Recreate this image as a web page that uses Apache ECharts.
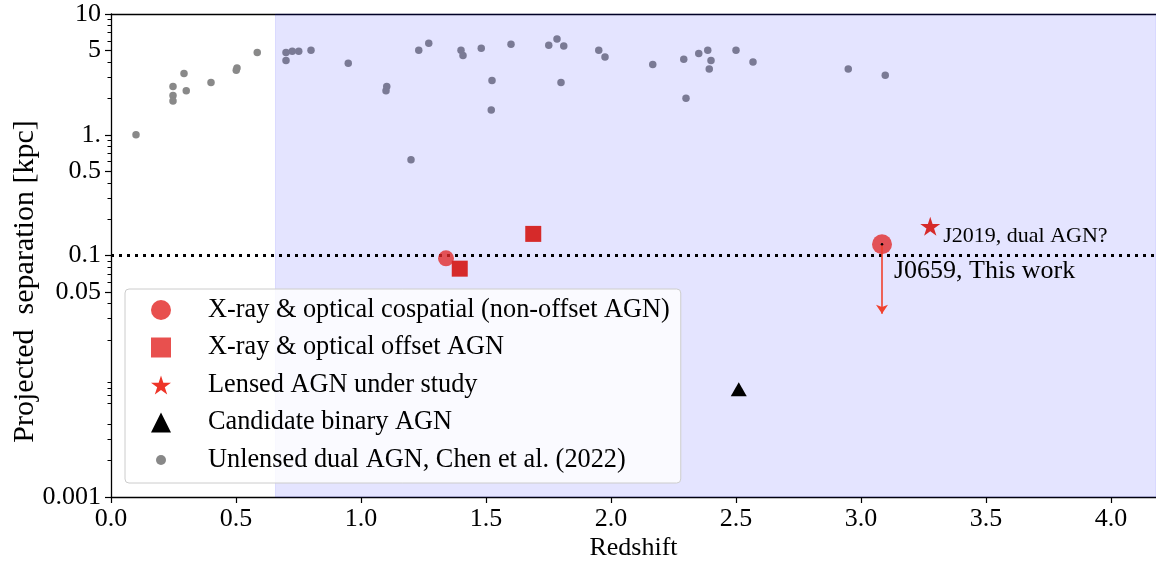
<!DOCTYPE html>
<html><head><meta charset="utf-8">
<script src="https://cdn.jsdelivr.net/npm/echarts@6/dist/echarts.min.js"></script>
<style>html,body{margin:0;padding:0;background:#fff}#c{width:1156px;height:561px}</style>
</head><body><div id="c"></div>
<script>
// ---- data ----
const unlensedZ   = [0.10,0.248,0.248,0.248,0.292,0.301,0.40,0.504,0.501,0.585,0.70,0.70,0.725,0.751,0.80,0.949,1.103,1.10,1.20,1.231,1.271,1.40,1.408,1.481,1.524,1.521,1.60,1.751,1.784,1.811,1.80,1.951,1.976,2.167,2.291,2.30,2.351,2.387,2.40,2.393,2.50,2.568,2.949,3.097];
const unlensedSep = [1.00,2.51,2.11,1.90,3.21,2.31,2.71,3.57,3.42,4.80,4.80,4.12,4.91,4.91,5.00,3.91,2.51,2.31,0.62,5.00,5.73,5.00,4.53,5.20,2.81,1.60,5.61,5.51,6.21,5.43,2.71,5.00,4.41,3.81,4.22,2.01,4.70,5.00,4.12,3.51,5.00,4.01,3.51,3.11];
const cospatialZ   = [1.34, 3.084];
const cospatialSep = [0.0948, 0.124];
const offsetZ   = [1.395, 1.689];
const offsetSep = [0.0778, 0.151];
const lensedZ   = [3.277];
const lensedSep = [0.175];
const binaryZ   = [2.511];
const binarySep = [0.0078];
const j0659UpperLimit = 0.033;
const shadeStartZ = 0.658;
const thresholdSep = 0.1;
const seriesNames = ['X-ray & optical cospatial (non-offset AGN)','X-ray & optical offset AGN','Lensed AGN under study','Candidate binary AGN','Unlensed dual AGN, Chen et al. (2022)'];
const xTickValues = [0,0.5,1.0,1.5,2.0,2.5,3.0,3.5,4.0];
const yTickValues = [0.001,0.05,0.1,0.5,1,5,10];
const yTickLabels = ['0.001','0.05','0.1','0.5','1.','5','10'];
const yMinorDecades = [0.001,0.01,0.1,1];
const yMinorMultipliers = [2,3,4,6,7,8,9];

// ---- chart ----
const FONT = '"Liberation Serif", "Times New Roman", serif';
const xMax = 4.18;
const zip = (a,b)=>a.map((v,i)=>[v,b[i]]);
const yMinorLog = [];
yMinorDecades.forEach(d=>yMinorMultipliers.forEach(m=>yMinorLog.push(Math.log10(d*m))));
const yMajorLog = yTickValues.map(v=>Math.log10(v));
const STAR = 'path://M0,-100L22.4,-30.8L95.1,-30.9L36.2,11.8L58.8,80.9L0,38.1L-58.8,80.9L-36.2,11.8L-95.1,-30.9L-22.4,-30.8Z';
const DOT = 'path://M0,0M20,20M10,5A5,5,0,1,1,10,15A5,5,0,1,1,10,5Z';
const txt = (size)=>({fontFamily:FONT, fontSize:size, color:'#000'});

const chart = echarts.init(document.getElementById('c'), null, {renderer:'canvas'});
const cosData = zip(cospatialZ, cospatialSep).map((p,i)=> i===1 ? {
  value:p, symbolSize:20,
  label:Object.assign({show:true, formatter:'J0659, This work', position:'right', distance:2, offset:[0,27]}, txt(26))
} : {value:p, symbolSize:16});

chart.setOption({
  animation:false,
  textStyle:{fontFamily:FONT},
  grid:{left:111, right:0, top:14, bottom:64, containLabel:false, outerBoundsMode:'none'},
  xAxis:[{
    type:'value', min:0, max:xMax,
    axisLine:{show:true, onZero:false, lineStyle:{color:'#000', width:1.3}},
    axisTick:{show:true, customValues:xTickValues, length:6, lineStyle:{color:'#000', width:1.2}},
    axisLabel:Object.assign({customValues:xTickValues, formatter:v=>v.toFixed(1), margin:9}, txt(26)),
    splitLine:{show:false},
    name:'Redshift', nameLocation:'middle', nameGap:38, nameMoveOverlap:false,
    nameTextStyle:txt(26)
  },{
    type:'value', min:0, max:xMax, position:'top',
    axisLine:{show:true, onZero:false, lineStyle:{color:'#000', width:1.3}},
    axisTick:{show:false}, axisLabel:{show:false}, splitLine:{show:false}
  }],
  yAxis:[{
    type:'log', logBase:10, min:0.001, max:10, show:false, splitLine:{show:false}
  },{
    type:'value', min:-3, max:1, position:'left',
    axisLine:{show:true, onZero:false, lineStyle:{color:'#000', width:1.3}},
    axisTick:{show:true, customValues:yMajorLog, length:6, lineStyle:{color:'#000', width:1.2}},
    axisLabel:Object.assign({customValues:yMajorLog, margin:10,
      formatter:v=>{let b=0;yMajorLog.forEach((t,i)=>{if(Math.abs(t-v)<Math.abs(yMajorLog[b]-v))b=i;});return yTickLabels[b];}}, txt(26)),
    splitLine:{show:false},
    name:'Projected  separation [kpc]', nameLocation:'middle', nameRotate:90, nameGap:71, nameMoveOverlap:false,
    nameTextStyle:Object.assign({padding:[0,52,0,0]}, txt(30))
  },{
    type:'value', min:-3, max:1, position:'left',
    axisLine:{show:false, onZero:false},
    axisTick:{show:true, customValues:yMinorLog, length:3.5, lineStyle:{color:'#000', width:1}},
    axisLabel:{show:false}, splitLine:{show:false}
  }],
  legend:{
    orient:'vertical', left:125, top:289, z:20,
    itemWidth:20, itemHeight:20, itemGap:7.5,
    padding:[6,11,8,26],
    backgroundColor:'rgba(255,255,255,0.8)', borderColor:'#cccccc', borderWidth:1, borderRadius:4,
    selectedMode:false,
    textStyle:Object.assign({lineHeight:30, padding:[0,0,0,32]}, txt(26.3)),
    data:[
      {name:seriesNames[0], icon:'circle', itemStyle:{color:'#e8504e', opacity:1}},
      {name:seriesNames[1], icon:'rect', itemStyle:{color:'#e8504e', opacity:1}},
      {name:seriesNames[2], icon:STAR, itemStyle:{color:'#ee3528', opacity:1}},
      {name:seriesNames[3], icon:'triangle', itemStyle:{color:'#000', opacity:1}},
      {name:seriesNames[4], icon:DOT, itemStyle:{color:'#888888', opacity:1}}
    ]
  },
  series:[
    {
      type:'scatter', name:seriesNames[4], xAxisIndex:0, yAxisIndex:0, z:1, silent:true,
      data:zip(unlensedZ, unlensedSep), symbol:'circle', symbolSize:7.5,
      itemStyle:{color:'#898989', opacity:1},
      markArea:{silent:true, z:2,
        itemStyle:{color:'rgba(0,0,255,0.105)', borderColor:'rgba(0,0,255,0.1)', borderWidth:1, opacity:1},
        data:[[{xAxis:shadeStartZ, yAxis:0.001},{xAxis:xMax, yAxis:10}]]}
    },
    {
      type:'scatter', name:seriesNames[0], xAxisIndex:0, yAxisIndex:0, z:10, silent:true,
      data:cosData, symbol:'circle',
      itemStyle:{color:'rgba(226,40,40,0.78)', opacity:1},
      markLine:{silent:true, z:9, symbol:['none','none'], label:{show:false},
        lineStyle:{color:'#000', width:3, type:[3,5], opacity:1},
        data:[{yAxis:thresholdSep}]}
    },
    {
      type:'scatter', name:seriesNames[1], xAxisIndex:0, yAxisIndex:0, z:10, silent:true,
      data:zip(offsetZ, offsetSep), symbol:'rect', symbolSize:16,
      itemStyle:{color:'#d62a2a', opacity:1}
    },
    {
      type:'scatter', name:seriesNames[2], xAxisIndex:0, yAxisIndex:0, z:10, silent:true,
      data:zip(lensedZ, lensedSep), symbol:STAR, symbolSize:20, symbolKeepAspect:true,
      itemStyle:{color:'#d62a2a', opacity:1},
      label:Object.assign({show:true, formatter:'J2019, dual AGN?', position:'right', distance:3, offset:[0,10.5]}, txt(22))
    },
    {
      type:'scatter', name:seriesNames[3], xAxisIndex:0, yAxisIndex:0, z:10, silent:true,
      data:zip(binaryZ, binarySep), symbol:'triangle', symbolSize:[16,14],
      itemStyle:{color:'#000', opacity:1}
    },
    {
      type:'scatter', name:'J0659 limit', xAxisIndex:0, yAxisIndex:0, z:12, silent:true,
      data:[[cospatialZ[1], cospatialSep[1]]], symbol:'circle', symbolSize:2.5,
      itemStyle:{color:'#000', opacity:1},
      markLine:{silent:true, z:11, symbol:['none','arrow'], symbolSize:9, label:{show:false},
        lineStyle:{color:'#f0402e', width:1.6, type:'solid', opacity:1},
        data:[[{coord:[cospatialZ[1], cospatialSep[1]]},{coord:[cospatialZ[1], j0659UpperLimit]}]]}
    }
  ]
});
</script>
</body></html>
